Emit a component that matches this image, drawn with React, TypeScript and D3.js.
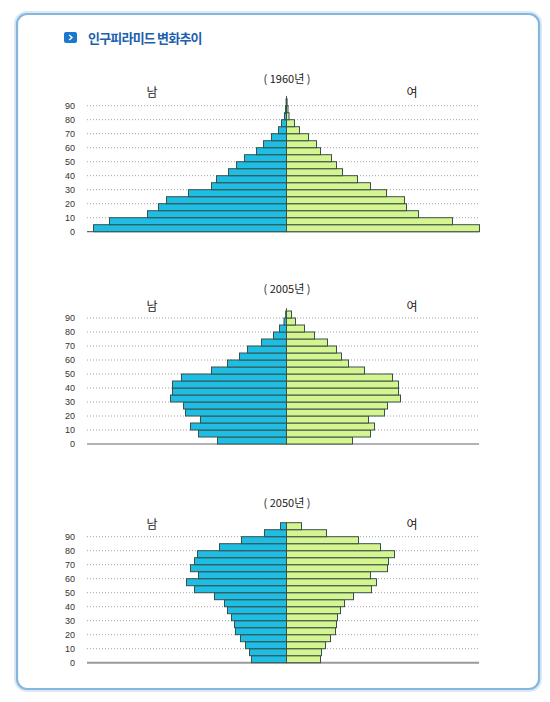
import * as d3 from "d3";

// age bands 0-4 ... 90+ (5-year steps)
const ageStarts = d3.range(0, 100, 5);
const tickValues = [0, 10, 20, 30, 40, 50, 60, 70, 80, 90];

const male1960 = [193, 177, 139, 128, 120, 98, 75, 70, 58, 50, 42, 30, 23, 15, 8, 5, 2, 1, 0.4];
const female1960 = [193, 166, 132, 120, 118, 100, 84, 71, 56, 50, 45, 34, 30, 22, 13, 8, 2.5, 1.5, 0.6];

const male2005 = [69, 88, 96, 86, 101, 103, 116, 114, 114, 105, 75, 59, 47, 39, 25, 13, 7, 2.5, 0.8];
const female2005 = [66, 84, 88, 82, 98, 101, 114, 112, 112, 106, 78, 62, 55, 50, 41, 28, 18, 9, 5];

const male2050 = [35, 37, 41, 46, 51, 52, 55, 59, 62, 72, 92, 100, 88, 96, 92, 89, 67, 45, 22, 6];
const female2050 = [34, 35, 39, 44, 49, 50, 51, 54, 58, 67, 85, 90, 84, 101, 102, 108, 94, 72, 40, 15];

const years = ["1960", "2005", "2050"];

const MALE = "#1fbde3";
const FEMALE = "#d6f590";
const EDGE = "#36524a";
const KR = "'Noto Sans CJK KR', 'Noto Sans', sans-serif";
const NUM = "'Liberation Sans', Arial, sans-serif";

interface PyramidProps {
    year: string;
    male: number[];
    female: number[];
    baseline: number;
    titleY: number;
    sexY: number;
    heavyBase?: boolean;
}

const x = d3.scaleLinear([-200, 200], [86.5, 486.5]);
const plotLeft = 87;
const plotRight = 479;

function Pyramid({ year, male, female, baseline, titleY, sexY, heavyBase }: PyramidProps) {
    const y = d3.scaleLinear([0, 100], [baseline, baseline - 140]);
    const x0 = x(0);
    return (
        <g>
            <text x={287} y={titleY} textAnchor="middle" fontSize={11} fill="#222" fontFamily={KR}>
                ( {year}년 )
            </text>
            <text x={152} y={sexY} textAnchor="middle" fontSize={12} fill="#222" fontFamily={KR}>
                남
            </text>
            <text x={412} y={sexY} textAnchor="middle" fontSize={12} fill="#222" fontFamily={KR}>
                여
            </text>
            {tickValues.map((v) => (
                <g key={v}>
                    {v > 0 && (
                        <line
                            x1={plotLeft}
                            x2={plotRight}
                            y1={y(v)}
                            y2={y(v)}
                            stroke="#8a8a8a"
                            strokeWidth={0.8}
                            strokeDasharray="1,2"
                        />
                    )}
                    <text x={75} y={y(v) + 3} textAnchor="end" fontSize={9} fill="#333" fontFamily={NUM}>
                        {v}
                    </text>
                </g>
            ))}
            <line
                x1={plotLeft}
                x2={plotRight}
                y1={baseline}
                y2={baseline}
                stroke={heavyBase ? "#9a9a9a" : "#666"}
                strokeWidth={heavyBase ? 2 : 1.2}
            />
            <line x1={x0} x2={x0} y1={baseline} y2={y(97)} stroke="#555" strokeWidth={1} />
            {male.map((v, i) => (
                <rect
                    key={"m" + i}
                    x={x(-v)}
                    y={y(ageStarts[i] + 5)}
                    width={x0 - x(-v)}
                    height={y(ageStarts[i]) - y(ageStarts[i] + 5)}
                    fill={MALE}
                    stroke={EDGE}
                    strokeWidth={1}
                />
            ))}
            {female.map((v, i) => (
                <rect
                    key={"f" + i}
                    x={x0}
                    y={y(ageStarts[i] + 5)}
                    width={x(v) - x0}
                    height={y(ageStarts[i]) - y(ageStarts[i] + 5)}
                    fill={FEMALE}
                    stroke={EDGE}
                    strokeWidth={1}
                />
            ))}
        </g>
    );
}

export default function App() {
    return (
        <svg
            width={550}
            height={702}
            style={{ position: "absolute", left: 0, top: 0, background: "#fff" }}
        >
            <rect x={16} y={13} width={524} height={677} rx={11} fill="none" stroke="#dbe9f5" strokeWidth={4} />
            <rect x={17} y={14} width={522} height={675} rx={10} fill="#fff" stroke="#86b6de" strokeWidth={2.2} />
            <rect x={64} y={32} width={13} height={11} rx={2} fill="#1b78cf" />
            <path d="M69.2,35 L72,37.5 L69.2,40" fill="none" stroke="#fff" strokeWidth={1.4} />
            <text x={88} y={43} fontSize={13} fontWeight="bold" fill="#1d5fae" fontFamily={KR} letterSpacing={-0.8}>
                인구피라미드 변화추이
            </text>
            <Pyramid year={years[0]} male={male1960} female={female1960} baseline={231.7} titleY={83} sexY={97} />
            <Pyramid year={years[1]} male={male2005} female={female2005} baseline={444} titleY={293} sexY={311} />
            <Pyramid
                year={years[2]}
                male={male2050}
                female={female2050}
                baseline={662.7}
                titleY={507}
                sexY={529}
                heavyBase
            />
        </svg>
    );
}
